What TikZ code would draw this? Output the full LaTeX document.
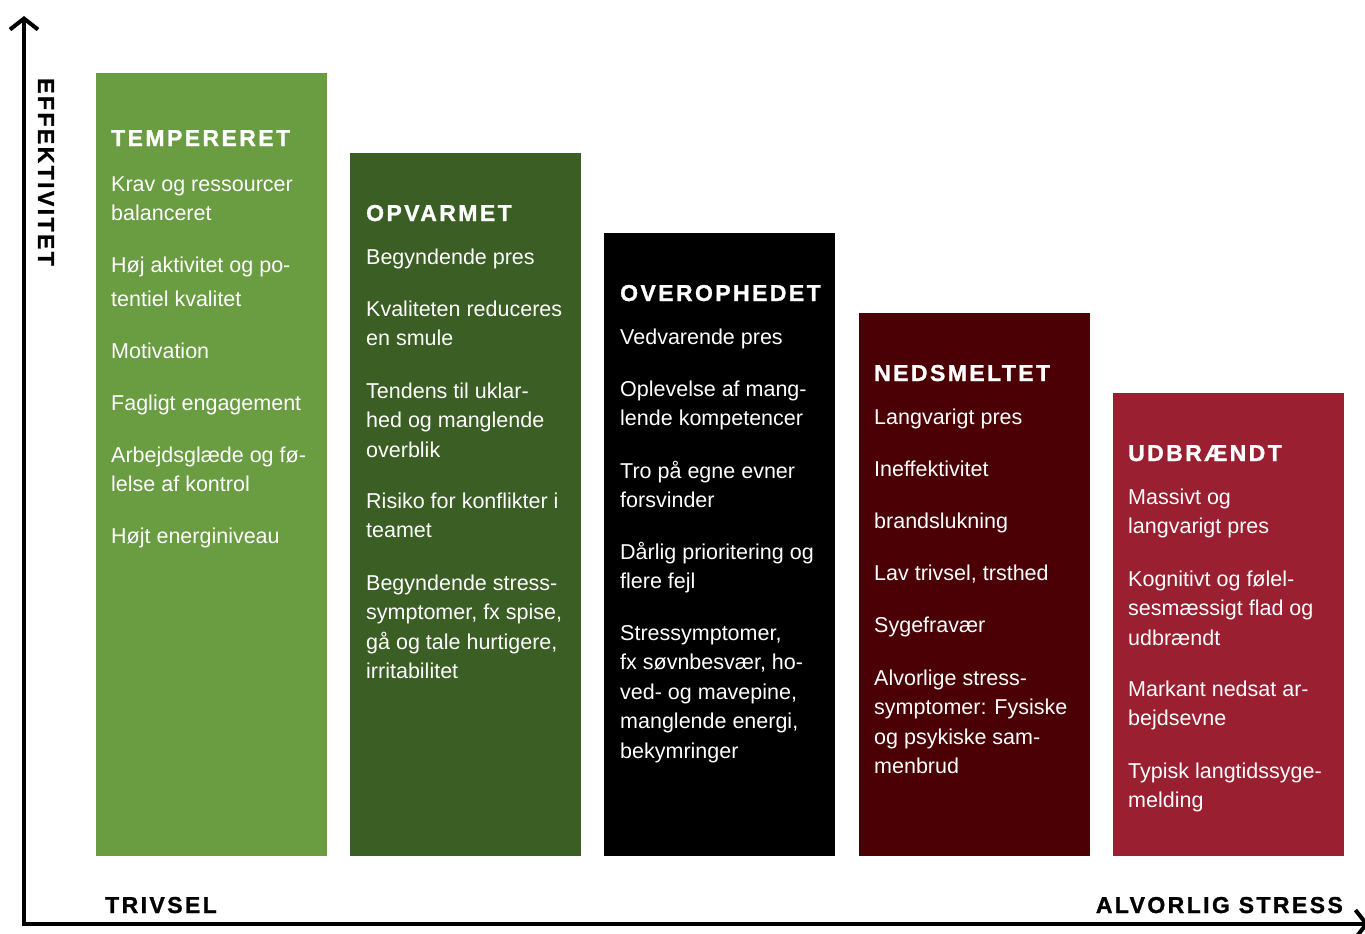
\documentclass[tikz,border=0pt]{standalone}
\usepackage{fontspec}
\setmainfont{Liberation Sans}
\newfontfamily\spaced[LetterSpace=10.5, BoldFeatures={FakeBold=1.2}]{Liberation Sans}
\usetikzlibrary{arrows.meta}
\definecolor{cTemp}{HTML}{6A9C42}
\definecolor{cOpv}{HTML}{3A5E24}
\definecolor{cOver}{HTML}{000000}
\definecolor{cNed}{HTML}{4A0004}
\definecolor{cUdb}{HTML}{9A1F30}
\newcommand\itm[1]{\begin{tabular}[t]{@{}l@{}}#1\end{tabular}}
\tikzset{
  bar/.style={anchor=north west, inner sep=0pt, minimum width=231pt, draw=none},
  head/.style={anchor=base west, inner sep=0pt, text=white, font=\spaced\bfseries\fontsize{23}{27}\selectfont},
  item/.style={anchor=base west, inner sep=0pt, text=white, font=\fontsize{21.5}{29.5}\selectfont},
  axislabel/.style={inner sep=0pt, text=black, font=\spaced\bfseries\fontsize{23}{27}\selectfont},
  axis/.style={line width=4.5pt, line join=miter, {Straight Barb[length=11pt,width=28pt,line width=4pt]}-{Straight Barb[length=11pt,width=28pt,line width=4pt]}}
}
\begin{document}
\begin{tikzpicture}[x=1pt,y=-1pt]
\useasboundingbox (0,0) rectangle (1365,934);
\fill[white] (0,0) rectangle (1365,934);
% bars
\node[bar, fill=cTemp, minimum height=783pt] (b1) at (96,73) {};
\node[bar, fill=cOpv,  minimum height=703pt] (b2) at (350,153) {};
\node[bar, fill=cOver, minimum height=623pt] (b3) at (604,233) {};
\node[bar, fill=cNed,  minimum height=543pt] (b4) at (859,313) {};
\node[bar, fill=cUdb,  minimum height=463pt] (b5) at (1113,393) {};
% box 1
\node[head] (h1) at (111,146) {TEMPERERET};
\node[item] (t1a) at (111,191) {\itm{Krav og ressourcer\\balanceret}};
\node[item] (t1b) at (111,272) {\itm{Høj aktivitet og po-\\[4.5pt]tentiel kvalitet}};
\node[item] (t1c) at (111,358) {\itm{Motivation}};
\node[item] (t1d) at (111,410) {\itm{Fagligt engagement}};
\node[item] (t1e) at (111,462) {\itm{Arbejdsglæde og fø-\\lelse af kontrol}};
\node[item] (t1f) at (111,543) {\itm{Højt energiniveau}};
% box 2
\node[head] (h2) at (366,221) {OPVARMET};
\node[item] (t2a) at (366,264) {\itm{Begyndende pres}};
\node[item] (t2b) at (366,316) {\itm{Kvaliteten reduceres\\en smule}};
\node[item] (t2c) at (366,398) {\itm{Tendens til uklar-\\hed og manglende\\overblik}};
\node[item] (t2d) at (366,508) {\itm{Risiko for konflikter i\\teamet}};
\node[item] (t2e) at (366,590) {\itm{Begyndende stress-\\symptomer, fx spise,\\gå og tale hurtigere,\\irritabilitet}};
% box 3
\node[head] (h3) at (620,301) {OVEROPHEDET};
\node[item] (t3a) at (620,344) {\itm{Vedvarende pres}};
\node[item] (t3b) at (620,396) {\itm{Oplevelse af mang-\\lende kompetencer}};
\node[item] (t3c) at (620,478) {\itm{Tro på egne evner\\forsvinder}};
\node[item] (t3d) at (620,559) {\itm{Dårlig prioritering og\\flere fejl}};
\node[item] (t3e) at (620,640) {\itm{Stressymptomer,\\fx søvnbesvær, ho-\\ved- og mavepine,\\manglende energi,\\bekymringer}};
% box 4
\node[head] (h4) at (874,381) {NEDSMELTET};
\node[item] (t4a) at (874,424) {\itm{Langvarigt pres}};
\node[item] (t4b) at (874,476) {\itm{Ineffektivitet}};
\node[item] (t4c) at (874,528) {\itm{brandslukning}};
\node[item] (t4d) at (874,580) {\itm{Lav trivsel, trsthed}};
\node[item] (t4e) at (874,632) {\itm{Sygefravær}};
\node[item] (t4f) at (874,685) {\itm{Alvorlige stress-\\symptomer: Fysiske\\og psykiske sam-\\menbrud}};
% box 5
\node[head] (h5) at (1128,461) {UDBRÆNDT};
\node[item] (t5a) at (1128,504) {\itm{Massivt og\\langvarigt pres}};
\node[item] (t5b) at (1128,586) {\itm{Kognitivt og følel-\\sesmæssigt flad og\\udbrændt}};
\node[item] (t5c) at (1128,696) {\itm{Markant nedsat ar-\\bejdsevne}};
\node[item] (t5d) at (1128,778) {\itm{Typisk langtidssyge-\\melding}};
% axes
\coordinate (ytop) at (24,16);
\coordinate (orig) at (24,924);
\coordinate (xend) at (1369,924);
\draw[axis] (ytop) -- (orig) -- (xend);
\node[axislabel, rotate=-90] (ylab) at (46,172) {EFFEKTIVITET};
\node[axislabel, anchor=base west] (xl1) at (105,913) {TRIVSEL};
\node[axislabel, anchor=base east] (xl2) at (1343,913) {ALVORLIG STRESS};
\end{tikzpicture}
\end{document}
